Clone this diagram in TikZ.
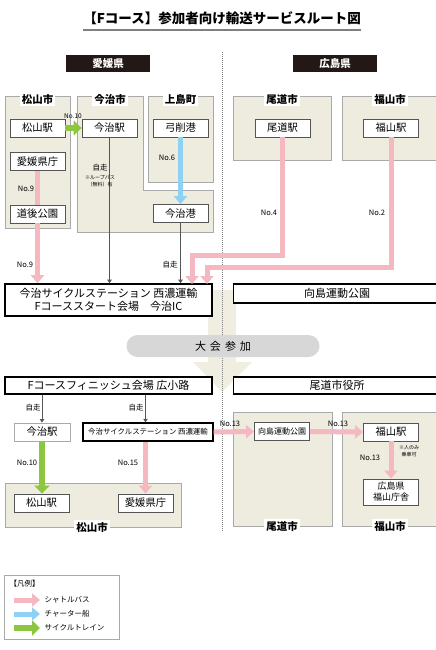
\documentclass[tikz,border=0pt]{standalone}
\usepackage{fontspec}
\setmainfont{Noto Sans CJK JP}
\usetikzlibrary{arrows.meta,positioning}
\definecolor{shuttlec}{HTML}{F5B8C1}
\definecolor{charterc}{HTML}{8FD1F2}
\definecolor{cyclec}{HTML}{8DC63F}
\definecolor{areabg}{HTML}{EEEBDF}
\definecolor{arealine}{HTML}{A9A9A9}
\definecolor{stnline}{HTML}{555555}
\definecolor{headbg}{HTML}{231815}
\definecolor{pillbg}{HTML}{D7D7D7}
\definecolor{joinbg}{HTML}{F0EDE1}
\begin{document}
\begin{tikzpicture}[x=1pt,y=1pt,yscale=-1,
	area/.style={draw=arealine, line width=1pt, fill=areabg},
	areatitle/.style={fill=white, inner sep=2pt, font=\bfseries\fontsize{10.5}{12}\selectfont},
	stn/.style={draw=stnline, line width=0.9pt, fill=white, minimum width=55pt, minimum height=18pt, inner sep=0pt, font=\fontsize{10.3}{11}\selectfont},
	venue/.style={draw=black, line width=1.6pt, fill=white, inner sep=0pt, font=\fontsize{11}{12.5}\selectfont},
	lbl/.style={inner sep=0.5pt, font=\fontsize{7.5}{9}\selectfont},
	note/.style={inner sep=0pt, align=center, font=\fontsize{5}{7}\selectfont},
	shuttleline/.style={draw=shuttlec, line width=5pt},
	shuttle/.style={shuttleline, -{Triangle[width=13pt,length=8pt]}},
	charter/.style={draw=charterc, line width=5pt, -{Triangle[width=13pt,length=8pt]}},
	cycle/.style={draw=cyclec, line width=6pt, -{Triangle[width=15pt,length=8pt]}},
	self/.style={draw=stnline, line width=0.8pt, -{Triangle[width=4.5pt,length=3.5pt]}}]
	\clip (0,0) rectangle (436,650);
	
	% Title
	\node[inner sep=0pt, font=\bfseries\fontsize{13.5}{15}\selectfont] (title) at (222,18) {【Fコース】参加者向け輸送サービスルート図};
	\draw [line width=1.5pt, draw=gray] (83,30) -- (361,30);
	
	%Shape: Rectangle (prefecture headers)
	\node[fill=headbg, text=white, minimum width=84pt, minimum height=17pt, inner sep=0pt, font=\bfseries\fontsize{10.5}{12}\selectfont] (ehime) at (108,63.5) {愛媛県};
	\node[fill=headbg, text=white, minimum width=84pt, minimum height=17pt, inner sep=0pt, font=\bfseries\fontsize{10.5}{12}\selectfont] (hiroshima) at (335,63.5) {広島県};
	
	%Shape: Big arrow (behind)
	\fill [joinbg] (208,290) -- (236,290) -- (236,362) -- (252,362) -- (222,392) -- (193,362) -- (208,362) -- cycle;
	
	%Straight Lines (border of prefectures)
	\draw [draw=gray, line width=1pt, dash pattern={on 1pt off 1pt}] (222,52) -- (222,532);
	
	%Shape: Areas (top)
	\draw [area] (5,97) rectangle (70,228);
	\draw [area] (77,97) -- (143,97) -- (143,190) -- (213,190) -- (213,232) -- (77,232) -- cycle;
	\draw [area] (148,97) rectangle (213,182);
	\draw [area] (233,97) rectangle (331,160);
	\draw [area] (342,97) rectangle (440,160);
	\node[areatitle] (mtyCity) at (37.5,99) {松山市};
	\node[areatitle] (imbCity) at (110,99) {今治市};
	\node[areatitle] (kmjTown) at (180.5,99) {上島町};
	\node[areatitle] (onoCity) at (282,99) {尾道市};
	\node[areatitle] (fkyCity) at (390,99) {福山市};
	
	%Shape: Areas (bottom)
	\draw [area] (5,483) rectangle (181,527);
	\draw [area] (233,412) rectangle (332,526);
	\draw [area] (342,412) rectangle (440,526);
	\node[areatitle] (mtyCityB) at (92,527) {松山市};
	\node[areatitle] (onoCityB) at (282,526) {尾道市};
	\node[areatitle] (fkyCityB) at (390,526) {福山市};
	
	% Stations (top)
	\node[stn] (mtyStA) at (37.5,128) {松山駅};
	\node[stn] (imbStA) at (109.5,128) {今治駅};
	\node[stn] (yugePort) at (180.5,128) {弓削港};
	\node[stn] (ehimeOffA) at (37.5,161.5) {愛媛県庁};
	\node[stn] (dogoPark) at (37.5,214) {道後公園};
	\node[stn] (imbPort) at (180.5,213.5) {今治港};
	\node[stn] (onoSt) at (282.5,128) {尾道駅};
	\node[stn] (fkySt) at (391,128) {福山駅};
	
	% Venues
	\node[venue, minimum width=207pt, minimum height=32pt, align=center] (start) at (108.5,300) {今治サイクルステーション 西濃運輸\\Fコーススタート会場　今治IC};
	\node[venue, minimum width=207pt, minimum height=19pt] (mukaiA) at (337,293.5) {向島運動公園};
	\node[venue, minimum width=207pt, minimum height=17pt] (finish) at (108.5,385.5) {Fコースフィニッシュ会場 広小路};
	\node[venue, minimum width=207pt, minimum height=17pt] (cityHall) at (337,385.5) {尾道市役所};
	
	% Join
	\node[fill=pillbg, rounded corners=11pt, minimum width=193pt, minimum height=22pt, inner sep=0pt, font=\fontsize{11}{12}\selectfont] (join) at (223,346) {大\hspace{4pt}会\hspace{4pt}参\hspace{4pt}加};
	
	% Stations (bottom)
	\node[stn, draw=arealine, minimum width=56pt] (imbStB) at (42,432) {今治駅};
	\node[venue, line width=1.4pt, minimum width=130pt, minimum height=18pt, font=\fontsize{7.4}{9}\selectfont] (cycleSt) at (148,432) {今治サイクルステーション 西濃運輸};
	\node[stn] (mtyStB) at (41.5,503) {松山駅};
	\node[stn] (ehimeOffB) at (145.5,503) {愛媛県庁};
	\node[stn, font=\fontsize{8}{9}\selectfont] (mukaiB) at (282,431.5) {向島運動公園};
	\node[stn] (fkyStB) at (391,432) {福山駅};
	\node[stn, minimum height=26pt, align=center, font=\fontsize{9}{11}\selectfont] (prefOffice) at (391,492) {広島県\\福山庁舎};
	
	% Routes (top)
	\coordinate (startIn1) at (192,284);
	\coordinate (startIn2) at (207,284);
	\coordinate (bendOno) at (282.5,255);
	\coordinate (bendFky) at (391,267);
	\draw [cycle] (mtyStA.east) -- (imbStA.west);
	\draw [charter] (yugePort.south) -- (imbPort.north);
	\draw [shuttleline] (ehimeOffA.south) -- (dogoPark.north);
	\draw [shuttle] (dogoPark.south) -- (dogoPark.south |- start.north);
	\draw [self] (imbStA.south) -- (imbStA.south |- start.north);
	\draw [self] (imbPort.south) -- (imbPort.south |- start.north);
	\draw [shuttle] (onoSt.south) -- (bendOno) -| (startIn1);
	\draw [shuttle] (fkySt.south) -- (bendFky) -| (startIn2);
	
	% Routes (bottom)
	\draw [self] (finish.south -| imbStB.north) -- (imbStB.north);
	\draw [self] (finish.south -| ehimeOffB.north) -- (ehimeOffB.north |- cycleSt.north);
	\draw [cycle] (imbStB.south) -- (imbStB.south |- mtyStB.north);
	\draw [shuttle] (ehimeOffB.north |- cycleSt.south) -- (ehimeOffB.north);
	\draw [shuttle] (cycleSt.east) -- (mukaiB.west);
	\draw [shuttle] (mukaiB.east) -- (fkyStB.west);
	\draw [shuttle] (fkyStB.south) -- (prefOffice.north);
	
	% Text Node
	\node[lbl, font=\fontsize{6.5}{8}\selectfont] (l1) at (73,116) {No.10};
	\node[lbl] (l2) at (167,158) {No.6};
	\node[lbl] (l3) at (26,189) {No.9};
	\node[lbl] (l4) at (25,265) {No.9};
	\node[lbl] (l5) at (100,168) {自走};
	\node[note] (l6) at (100,181) {※ループバス\\（無料）有};
	\node[lbl] (l7) at (170,265) {自走};
	\node[lbl] (l8) at (269,213) {No.4};
	\node[lbl] (l9) at (377,213) {No.2};
	\node[lbl] (l10) at (33,408) {自走};
	\node[lbl] (l11) at (136,408) {自走};
	\node[lbl] (l12) at (27,463) {No.10};
	\node[lbl] (l13) at (128,463) {No.15};
	\node[lbl] (l14) at (230,424) {No.13};
	\node[lbl] (l15) at (338,424) {No.13};
	\node[lbl] (l16) at (370,458) {No.13};
	\node[note] (l17) at (409,451) {※人のみ\\乗車可};
	
	% Legend
	\draw [draw=arealine, line width=1pt] (4,575) rectangle (119,639);
	\node[lbl, anchor=west] (legTitle) at (9,584) {【凡例】};
	\coordinate (legA1) at (14,600); \coordinate (legA2) at (40,600);
	\coordinate (legB1) at (14,614); \coordinate (legB2) at (40,614);
	\coordinate (legC1) at (14,628); \coordinate (legC2) at (40,628);
	\draw [shuttle] (legA1) -- (legA2);
	\draw [charter] (legB1) -- (legB2);
	\draw [cycle] (legC1) -- (legC2);
	\node[lbl, anchor=west] (legA) at (44,600) {シャトルバス};
	\node[lbl, anchor=west] (legB) at (44,614) {チャーター船};
	\node[lbl, anchor=west] (legC) at (44,628) {サイクルトレイン};
\end{tikzpicture}
\end{document}
